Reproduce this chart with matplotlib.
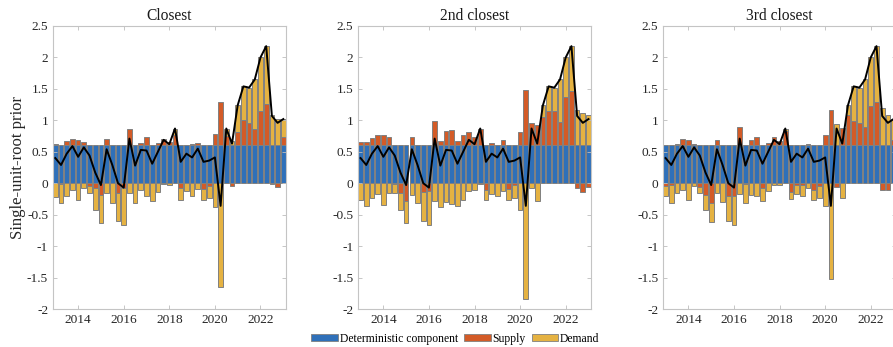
import matplotlib
matplotlib.use("Agg")
import matplotlib.pyplot as plt
import numpy as np
from matplotlib.patches import Patch

plt.rcParams["font.family"] = ["Liberation Serif", "DejaVu Serif"]

# quarterly observations 2013Q1 .. 2023Q1
dates = 2013 + np.arange(41) / 4

deterministic = 0.6

# total (black line), shared by all three priors
total = [0.40, 0.29, 0.47, 0.59, 0.42, 0.57, 0.44, 0.17, -0.03, 0.54,
         0.29, 0.00, -0.07, 0.71, 0.28, 0.53, 0.52, 0.31, 0.50, 0.69,
         0.62, 0.87, 0.34, 0.47, 0.41, 0.55, 0.34, 0.36, 0.41, -0.36,
         0.87, 0.63, 1.24, 1.54, 1.52, 1.65, 2.00, 2.18, 1.07, 0.96,
         1.02]

supply_closest = [0.02, -0.01, 0.07, 0.10, 0.09, 0.05, -0.04, -0.07, -0.19, 0.10,
                  0.00, -0.15, -0.07, 0.26, 0.00, 0.04, 0.13, 0.00, 0.04, 0.11,
                  0.05, 0.17, -0.08, 0.00, 0.02, 0.04, -0.09, -0.04, 0.19, 0.69,
                  0.15, -0.04, 0.21, 0.40, 0.36, 0.27, 0.55, 0.66, -0.01, -0.06,
                  0.13]
demand_closest = [-0.22, -0.30, -0.20, -0.11, -0.27, -0.08, -0.12, -0.36, -0.44, -0.16,
                  -0.31, -0.45, -0.60, -0.15, -0.32, -0.11, -0.21, -0.29, -0.14, -0.02,
                  -0.03, 0.10, -0.18, -0.13, -0.21, -0.09, -0.17, -0.20, -0.38, -1.65,
                  0.12, 0.07, 0.43, 0.54, 0.56, 0.78, 0.85, 0.92, 0.48, 0.42,
                  0.29]

supply_2nd = [0.06, 0.06, 0.12, 0.17, 0.16, 0.13, -0.02, -0.15, -0.28, 0.13,
              0.00, -0.14, -0.13, 0.39, 0.07, 0.23, 0.25, 0.07, 0.17, 0.21,
              0.13, 0.27, -0.10, 0.04, 0.00, 0.08, -0.09, -0.03, 0.22, 0.88,
              0.35, 0.32, 0.45, 0.55, 0.55, 0.37, 0.77, 0.87, -0.08, -0.14,
              -0.06]
demand_2nd = [-0.26, -0.36, -0.24, -0.17, -0.34, -0.16, -0.14, -0.27, -0.35, -0.19,
              -0.31, -0.46, -0.54, -0.28, -0.38, -0.30, -0.33, -0.36, -0.27, -0.12,
              -0.11, -0.01, -0.16, -0.17, -0.21, -0.13, -0.17, -0.21, -0.42, -1.84,
              -0.08, -0.29, 0.19, 0.39, 0.37, 0.68, 0.63, 0.71, 0.56, 0.51,
              0.48]

supply_3rd = [-0.04, -0.03, 0.03, 0.10, 0.08, 0.02, -0.06, -0.18, -0.31, 0.09,
              0.00, -0.21, -0.21, 0.29, -0.02, 0.09, 0.13, -0.08, 0.04, 0.13,
              0.07, 0.23, -0.14, -0.03, -0.03, 0.03, -0.11, -0.05, 0.16, 0.57,
              -0.06, 0.28, 0.48, 0.39, 0.35, 0.29, 0.63, 0.69, -0.11, -0.11,
              0.08]
demand_3rd = [-0.16, -0.28, -0.16, -0.10, -0.26, -0.04, -0.10, -0.24, -0.31, -0.15,
              -0.30, -0.39, -0.46, -0.17, -0.29, -0.19, -0.21, -0.20, -0.13, -0.03,
              -0.03, 0.03, -0.11, -0.14, -0.18, -0.08, -0.15, -0.19, -0.36, -1.52,
              0.34, -0.24, 0.16, 0.55, 0.57, 0.76, 0.77, 0.89, 0.59, 0.48,
              0.34]

titles = ["Closest", "2nd closest", "3rd closest"]
supplies = [supply_closest, supply_2nd, supply_3rd]
demands = [demand_closest, demand_2nd, demand_3rd]

c_det = "#2F70B9"
c_sup = "#D35B27"
c_dem = "#E5B242"
edge = "#808080"
width = 0.205

fig = plt.figure(figsize=(8.93, 3.47), dpi=100)
lefts = [0.0594, 0.4012, 0.7428]

for left, title, sup, dem in zip(lefts, titles, supplies, demands):
    ax = fig.add_axes([left, 0.1095, 0.2609, 0.8156])
    sup = np.array(sup)
    dem = np.array(dem)
    det = np.full(len(dates), deterministic)

    # positive contributions stack on top of the deterministic part,
    # negative ones stack downward from zero
    sup_bottom = np.where(sup >= 0, det, 0.0)
    dem_bottom = np.where(dem >= 0, det + np.clip(sup, 0, None),
                          np.clip(sup, None, 0))

    kw = dict(width=width, edgecolor=edge, linewidth=0.7)
    ax.bar(dates, det, color=c_det, **kw)
    ax.bar(dates, sup, bottom=sup_bottom, color=c_sup, **kw)
    ax.bar(dates, dem, bottom=dem_bottom, color=c_dem, **kw)
    ax.plot(dates, total, color="black", linewidth=1.4, zorder=5)

    ax.set_xlim(2012.9, 2023.12)
    ax.set_ylim(-2, 2.5)
    ax.set_xticks([2014, 2016, 2018, 2020, 2022])
    yt = np.arange(-2, 2.51, 0.5)
    ax.set_yticks(yt)
    ax.set_yticklabels([f"{v:g}" for v in yt])
    ax.tick_params(direction="in", length=3, width=0.6, colors="#bdbdbd",
                   labelcolor="#262626", labelsize=9.6, top=True, right=True)
    for s in ax.spines.values():
        s.set_color("#c4c4c4")
        s.set_linewidth(0.8)
    ax.set_title(title, fontsize=11.2, color="#1a1a1a", pad=4)
    if left == lefts[0]:
        ax.set_ylabel("Single-unit-root prior", fontsize=12, color="#262626",
                      labelpad=1)

handles = [Patch(facecolor=c_det, edgecolor=edge, linewidth=0.6),
           Patch(facecolor=c_sup, edgecolor=edge, linewidth=0.6),
           Patch(facecolor=c_dem, edgecolor=edge, linewidth=0.6)]
fig.legend(handles, ["Deterministic component", "Supply", "Demand"],
           loc="lower center", bbox_to_anchor=(0.51, -0.024), ncol=3,
           frameon=False, fontsize=8.4, handlelength=2.3, handleheight=0.6,
           handletextpad=0.15, columnspacing=0.5)

fig.savefig("out.png", dpi=100)
